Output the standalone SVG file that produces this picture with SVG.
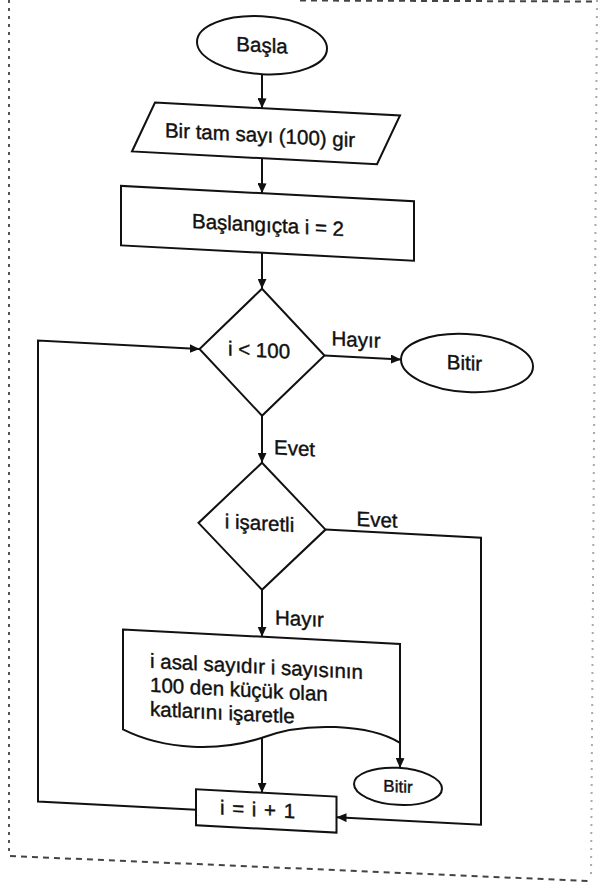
<svg xmlns="http://www.w3.org/2000/svg" width="601" height="883" viewBox="0 0 601 883">
  <defs>
    <marker id="arr" markerUnits="userSpaceOnUse" markerWidth="11" markerHeight="9" refX="10" refY="4.5" orient="auto">
      <path d="M0,0 L10,4.5 L0,9 Z" fill="#111"/>
    </marker>
    <style>
      .shape { fill: #fff; stroke: #111; stroke-width: 2; }
      .conn { fill: none; stroke: #111; stroke-width: 2; }
      .arrow { marker-end: url(#arr); }
      text { font-family: "Liberation Sans", Arial, sans-serif; font-size: 20.5px; fill: #111; stroke: #111; stroke-width: 0.4px; }
      .c { text-anchor: middle; }
      .small { font-size: 17px; }
      .bl { fill: none; stroke: #555; stroke-width: 2; stroke-dasharray: 3 5; }
      .bb { fill: none; stroke: #444; stroke-width: 2; stroke-dasharray: 6 5; }
      .br { fill: none; stroke: #aaa; stroke-width: 2; stroke-dasharray: 2 6; }
    </style>
  </defs>
  <rect x="0" y="0" width="601" height="883" fill="#fff"/>
  <g id="border">
    <path class="bl" d="M9,0 V852"/>
    <path class="bb" d="M10,856 L588,881"/>
    <path class="br" d="M597,0 L591,880"/>
    <path class="bb" d="M300,0.5 L597,1.5"/>
  </g>
  <g id="diagram" transform="skewY(3)">
    <g id="connectors">
      <path class="conn arrow" d="M262,61 V94.5"/>
      <path class="conn arrow" d="M262,144.5 V179.5"/>
      <path class="conn arrow" d="M262,239 V275"/>
      <path class="conn arrow" d="M324.5,338.5 H401"/>
      <path class="conn arrow" d="M262,402 V449"/>
      <path class="conn arrow" d="M262,576 V623"/>
      <path class="conn arrow" d="M262,724 V779"/>
      <path class="conn arrow" d="M400,722 V747"/>
      <path class="conn arrow" d="M196,799.5 H38 V338.5 H199.5"/>
      <path class="conn arrow" d="M325.5,512.5 H481 V799.5 H336.5"/>
      <text x="356" y="328" class="c">Hayır</text>
      <text x="274" y="440">Evet</text>
      <text x="377" y="507" class="c">Evet</text>
      <text x="275" y="610">Hayır</text>
    </g>
    <g id="start">
      <ellipse class="shape" cx="262" cy="31.5" rx="65" ry="29"/>
      <text x="262" y="38.5" class="c">Başla</text>
    </g>
    <g id="input">
      <polygon class="shape" points="155,94.5 400,94.5 377,144.5 132,144.5"/>
      <text x="260" y="128.5" class="c">Bir tam sayı (100) gir</text>
    </g>
    <g id="init">
      <rect class="shape" x="121" y="179.5" width="293" height="59.5"/>
      <text x="268" y="218" class="c">Başlangıçta i = 2</text>
    </g>
    <g id="cond1">
      <polygon class="shape" points="262,275 324.5,338.5 262,402 199.5,338.5"/>
      <text x="259" y="343.5" class="c">i &lt; 100</text>
    </g>
    <g id="end1">
      <ellipse class="shape" cx="467" cy="338.5" rx="66" ry="29"/>
      <text x="464.5" y="345.5" class="c">Bitir</text>
    </g>
    <g id="cond2">
      <polygon class="shape" points="262,449 325.5,512.5 262,576 198.5,512.5"/>
      <text x="259.5" y="516.5" class="c">i işaretli</text>
    </g>
    <g id="mark">
      <path class="shape" d="M123,623 H400 V722 C370,705 305,705 262,724 C220,740 165,742 123,723 Z"/>
      <text x="150" y="660">i asal sayıdır i sayısının</text>
      <text x="150" y="684">100 den küçük olan</text>
      <text x="150" y="708">katlarını işaretle</text>
    </g>
    <g id="end2">
      <ellipse class="shape" cx="398" cy="765.5" rx="44" ry="18.5"/>
      <text x="398" y="771.5" class="c small">Bitir</text>
    </g>
    <g id="incr">
      <rect class="shape" x="196" y="779" width="140.5" height="36"/>
      <text x="257.5" y="803" class="c" word-spacing="2">i = i + 1</text>
    </g>
  </g>
</svg>
